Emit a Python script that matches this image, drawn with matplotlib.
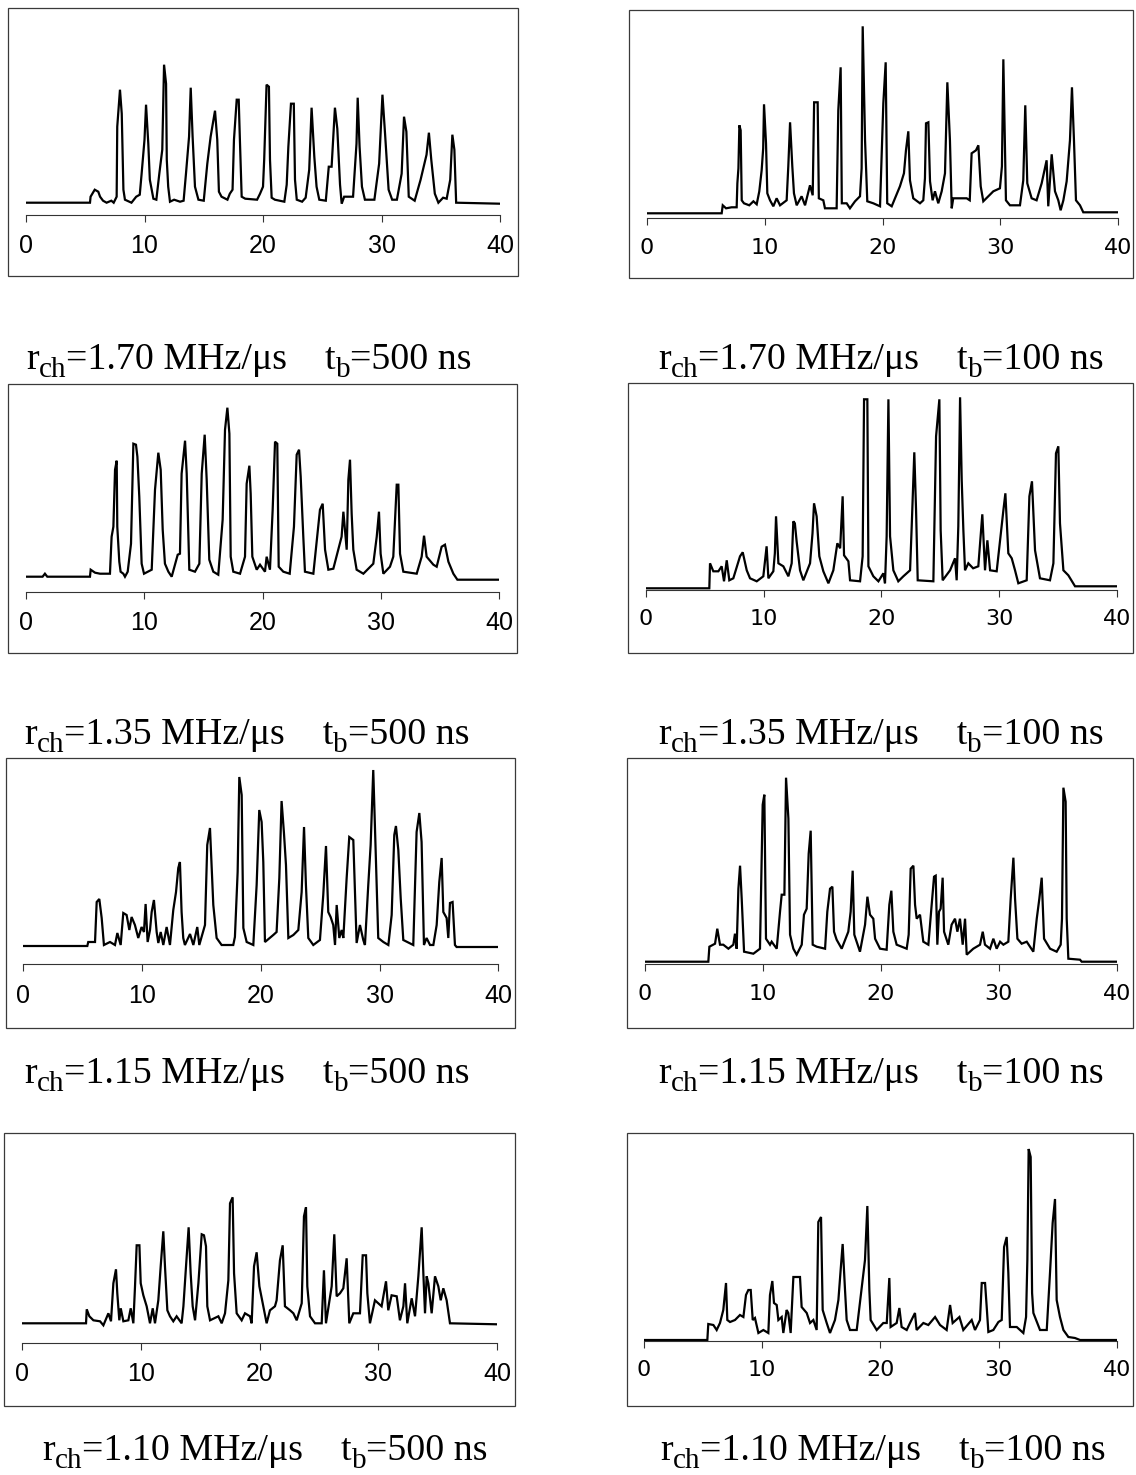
import matplotlib
matplotlib.use('Agg')
import matplotlib.pyplot as plt
from matplotlib.patches import Rectangle

# chirp rates / burst durations for each panel (row-major: left 500 ns, right 100 ns)
rates = ['1.70', '1.70', '1.35', '1.35', '1.15', '1.15', '1.10', '1.10']
bursts = ['500', '100', '500', '100', '500', '100', '500', '100']
ticks = [0, 10, 20, 30, 40]

# traces: (time, amplitude) vertices, amplitude in arbitrary units above baseline
trace_170_500 = [(0, 0), (5.4, 0), (5.45, 6), (5.8, 13), (6.1, 11), (6.25, 6), (6.5, 2), (6.8, 0), (7.2, 2), (7.4, 0),
                 (7.65, 6), (7.7, 76), (7.93, 113), (8.08, 89), (8.22, 13), (8.35, 3), (8.9, 0), (9.3, 6), (9.6, 8), (9.75, 28),
                 (10.0, 63), (10.13, 98), (10.32, 59), (10.45, 23), (10.75, 4), (11.0, 3), (11.25, 29), (11.5, 53), (11.65, 138),
                 (11.82, 119), (11.88, 43), (12.0, 16), (12.15, 1), (12.5, 3), (13.0, 1), (13.3, 2), (13.5, 29), (13.76, 66),
                 (13.9, 115), (14.06, 66), (14.26, 16), (14.55, 3), (15.0, 2), (15.3, 39), (15.58, 66), (15.95, 92), (16.14, 63),
                 (16.28, 11), (16.5, 6), (17.0, 3), (17.2, 9), (17.43, 13), (17.55, 63), (17.78, 103), (17.95, 103), (18.05, 63),
                 (18.2, 6), (18.5, 4), (19.5, 3), (19.75, 9), (20.0, 16), (20.1, 43), (20.3, 118), (20.5, 116), (20.59, 43),
                 (20.73, 5), (21.0, 3), (21.8, 1), (22.0, 18), (22.14, 56), (22.36, 99), (22.6, 99), (22.7, 23), (22.85, 3),
                 (23.3, 1), (23.6, 5), (23.9, 33), (24.1, 95), (24.33, 46), (24.52, 16), (24.75, 3), (25.3, 2), (25.55, 36),
                 (25.79, 36), (26.07, 95), (26.27, 74), (26.5, 18), (26.64, -1), (26.85, 6), (27.6, 6), (27.89, 59), (27.99, 105),
                 (28.15, 56), (28.35, 16), (28.6, 3), (29.4, 3), (29.8, 39), (30.08, 108), (30.3, 69), (30.6, 13), (30.9, 3),
                 (31.3, 3), (31.7, 29), (31.9, 86), (32.1, 71), (32.3, 6), (32.8, 2), (33.3, 23), (33.8, 48), (34.0, 70),
                 (34.2, 43), (34.5, 9), (34.8, 0), (35.2, 5), (35.5, 4), (35.8, 23), (35.98, 68), (36.15, 53), (36.3, 0), (40, -1)]

trace_170_100 = [(0, -5), (6.36, -5), (6.45, 3), (6.73, 0), (7.2, 1), (7.63, 1), (7.69, 25), (7.78, 40), (7.86, 83), (7.97, 78),
                 (8.06, 8), (8.25, 5), (8.7, 3), (9.05, 7), (9.33, 4), (9.55, 17), (9.75, 38), (9.88, 60), (9.95, 104), (10.12, 65),
                 (10.23, 15), (10.46, 8), (10.74, 2), (11.02, 10), (11.31, 3), (11.87, 8), (12.01, 42), (12.16, 86), (12.35, 42),
                 (12.49, 15), (12.72, 3), (13.14, 12), (13.43, 3), (13.85, 23), (14.08, 13), (14.2, 106), (14.5, 106), (14.6, 10),
                 (14.98, 8), (15.12, 0), (16.11, 0), (16.25, 98), (16.45, 141), (16.55, 5), (16.96, 5), (17.24, 0), (17.67, 7),
                 (18.09, 12), (18.23, 40), (18.32, 182), (18.52, 68), (18.71, 7), (19.22, 5), (19.79, 2), (20.07, 105), (20.27, 146),
                 (20.4, 5), (20.78, 2), (21.48, 22), (21.82, 35), (21.99, 58), (22.19, 77), (22.33, 28), (22.61, 10), (23.18, 5),
                 (23.46, 8), (23.6, 30), (23.69, 85), (23.89, 86), (24.03, 27), (24.25, 8), (24.45, 17), (24.73, 5), (25.02, 17),
                 (25.3, 35), (25.5, 126), (25.72, 68), (25.87, 0), (26.0, 10), (27.14, 10), (27.4, 8), (27.56, 55), (27.93, 58),
                 (28.13, 63), (28.33, 22), (28.55, 7), (29.4, 17), (29.96, 20), (30.13, 42), (30.25, 149), (30.47, 8), (30.81, 3),
                 (31.66, 3), (31.94, 28), (32.11, 103), (32.28, 25), (32.65, 10), (33.07, 8), (33.5, 25), (33.92, 48), (34.06, 2),
                 (34.35, 54), (34.63, 17), (34.91, 8), (35.11, -2), (35.34, 8), (35.62, 27), (35.9, 68), (36.07, 121), (36.24, 68),
                 (36.41, 8), (36.75, 3), (37.03, -4), (40, -4)]

trace_135_500 = [(0, 0), (1.4, 0), (1.6, 3), (1.8, 0), (5.41, 0), (5.47, 7), (5.84, 4), (6.26, 3), (7.1, 3), (7.24, 40),
                 (7.39, 50), (7.53, 107), (7.67, 116), (7.72, 50), (7.89, 15), (8.0, 5), (8.23, 3), (8.37, 0), (8.6, 5), (8.88, 33),
                 (9.08, 133), (9.3, 132), (9.42, 120), (9.58, 80), (9.78, 13), (9.98, 3), (10.63, 7), (10.91, 87), (11.19, 124),
                 (11.39, 107), (11.56, 47), (11.75, 13), (12.04, 5), (12.32, 0), (12.83, 22), (13.02, 23), (13.16, 103), (13.45, 136),
                 (13.59, 103), (13.81, 7), (14.29, 5), (14.66, 13), (14.86, 103), (15.11, 142), (15.28, 97), (15.5, 17), (15.84, 5),
                 (16.26, 2), (16.63, 57), (16.83, 147), (17.03, 169), (17.2, 143), (17.31, 20), (17.53, 5), (18.1, 3), (18.52, 20),
                 (18.66, 93), (18.89, 111), (19.0, 83), (19.14, 20), (19.51, 7), (19.79, 12), (20.21, 5), (20.35, 20), (20.63, 7),
                 (20.86, 67), (21.06, 135), (21.25, 133), (21.37, 10), (21.76, 5), (22.3, 3), (22.66, 50), (22.89, 122), (23.09, 127),
                 (23.23, 100), (23.45, 40), (23.59, 5), (24.3, 3), (24.86, 67), (25.09, 73), (25.29, 27), (25.57, 7), (25.99, 8),
                 (26.69, 40), (26.84, 65), (27.12, 27), (27.26, 97), (27.4, 117), (27.54, 63), (27.68, 27), (27.96, 7), (28.53, 3),
                 (29.37, 13), (29.66, 40), (29.85, 65), (29.99, 23), (30.22, 3), (30.78, 10), (31.06, 20), (31.35, 92), (31.49, 92),
                 (31.63, 23), (31.91, 5), (33.04, 3), (33.46, 20), (33.66, 41), (33.88, 20), (34.45, 12), (34.73, 10), (35.15, 30),
                 (35.43, 32), (35.72, 15), (36.14, 3), (36.48, -3), (40, -3)]

trace_135_100 = [(0, -5), (5.38, -5), (5.44, 20), (5.72, 12), (6.15, 12), (6.43, 17), (6.63, 2), (6.86, 23), (7.08, 3), (7.42, 5),
                 (7.99, 27), (8.22, 31), (8.56, 13), (8.84, 5), (9.41, 2), (9.97, 7), (10.25, 37), (10.4, 5), (10.82, 12), (10.95, 30),
                 (11.05, 67), (11.25, 20), (11.67, 17), (12.1, 7), (12.38, 20), (12.52, 62), (12.65, 60), (12.8, 42), (13.09, 13),
                 (13.37, 3), (13.94, 20), (14.15, 50), (14.28, 80), (14.5, 67), (14.73, 27), (15.07, 12), (15.5, 0), (15.92, 13),
                 (16.26, 40), (16.5, 35), (16.71, 87), (16.83, 28), (17.2, 22), (17.34, 3), (18.19, 2), (18.41, 27), (18.53, 184),
                 (18.81, 184), (18.9, 17), (19.32, 7), (19.75, 2), (20.17, 10), (20.31, 0), (20.45, 47), (20.6, 184), (20.74, 47),
                 (21.02, 13), (21.44, 2), (21.87, 7), (22.44, 13), (22.58, 57), (22.8, 131), (22.95, 73), (23.09, 3), (24.42, 2),
                 (24.65, 147), (24.93, 184), (25.04, 53), (25.21, 3), (25.84, 13), (26.26, 25), (26.4, 3), (26.54, 57), (26.69, 186),
                 (26.83, 103), (26.97, 53), (27.11, 13), (27.39, 20), (27.8, 15), (28.24, 17), (28.58, 69), (28.81, 13), (29.01, 43),
                 (29.24, 13), (29.8, 12), (30.37, 73), (30.54, 90), (30.79, 30), (31.08, 25), (31.36, 13), (31.64, 0), (32.35, 3),
                 (32.58, 87), (32.8, 102), (33.06, 33), (33.48, 5), (34.33, 3), (34.62, 20), (34.84, 130), (35.04, 137), (35.18, 60),
                 (35.47, 13), (35.89, 8), (36.46, -3), (40, -3)]

trace_115_500 = [(0, -1), (5.39, -1), (5.47, 3), (6.04, 3), (6.18, 43), (6.4, 46), (6.6, 27), (6.79, 0), (7.3, 3), (7.72, 0),
                 (7.92, 12), (8.2, 0), (8.42, 32), (8.7, 30), (8.93, 15), (9.12, 28), (9.4, 20), (9.68, 7), (9.96, 18), (10.16, 13),
                 (10.3, 41), (10.47, 3), (10.67, 15), (10.81, 33), (11.0, 45), (11.23, 13), (11.37, 2), (11.57, 13), (11.79, 0),
                 (12.07, 18), (12.35, 0), (12.63, 35), (12.86, 53), (13.05, 77), (13.19, 83), (13.33, 33), (13.47, 7), (13.61, 0),
                 (14.04, 11), (14.32, 0), (14.65, 18), (14.82, 0), (15.3, 20), (15.49, 100), (15.72, 117), (16.0, 40), (16.28, 7),
                 (16.7, 0), (17.68, 0), (17.82, 8), (18.05, 73), (18.19, 168), (18.39, 150), (18.53, 17), (18.81, 3), (19.37, 0),
                 (19.65, 60), (19.87, 135), (20.07, 123), (20.21, 83), (20.35, 3), (21.05, 10), (21.33, 13), (21.56, 67), (21.75, 144),
                 (21.95, 112), (22.12, 80), (22.32, 7), (22.74, 10), (23.16, 15), (23.44, 53), (23.64, 118), (23.8, 60), (24.0, 7),
                 (24.42, 0), (24.98, 5), (25.26, 50), (25.49, 99), (25.68, 33), (25.88, 28), (26.1, 20), (26.25, 0), (26.39, 40),
                 (26.61, 7), (26.81, 15), (26.95, 7), (27.23, 67), (27.45, 108), (27.79, 105), (27.93, 53), (28.07, 2), (28.35, 20),
                 (28.63, 5), (28.77, 0), (29.05, 60), (29.25, 100), (29.47, 175), (29.7, 83), (29.89, 7), (30.32, 3), (30.74, 0),
                 (31.02, 30), (31.24, 110), (31.38, 119), (31.58, 95), (31.78, 47), (32.0, 5), (32.84, 0), (33.12, 113), (33.35, 132),
                 (33.54, 103), (33.74, 0), (33.96, 7), (34.25, 0), (34.53, 0), (34.81, 20), (35.03, 63), (35.23, 87), (35.37, 33),
                 (35.65, 27), (35.79, 7), (35.93, 42), (36.15, 43), (36.35, 0), (36.49, -2), (40, -2)]

trace_115_100 = [(0, -5), (5.37, -5), (5.46, 10), (5.94, 13), (6.13, 28), (6.36, 12), (6.64, 12), (7.07, 8), (7.49, 12), (7.63, 23),
                 (7.77, 8), (7.92, 68), (8.06, 91), (8.2, 58), (8.4, 5), (9.19, 3), (9.75, 8), (9.98, 152), (10.12, 162), (10.26, 18),
                 (10.6, 12), (10.74, 15), (11.17, 8), (11.45, 45), (11.59, 62), (11.82, 62), (11.96, 179), (12.16, 138), (12.3, 22),
                 (12.58, 8), (12.86, 2), (13.29, 12), (13.48, 42), (13.71, 48), (13.88, 103), (14.05, 126), (14.22, 12), (14.56, 10),
                 (15.27, 8), (15.46, 45), (15.69, 68), (15.89, 70), (16.03, 25), (16.25, 17), (16.68, 8), (17.24, 25), (17.44, 45),
                 (17.61, 86), (17.75, 22), (18.23, 5), (18.66, 32), (18.86, 60), (19.08, 42), (19.36, 38), (19.51, 18), (19.93, 8),
                 (20.49, 7), (20.72, 52), (20.89, 66), (21.06, 25), (21.34, 12), (22.19, 8), (22.36, 22), (22.53, 88), (22.76, 91),
                 (22.9, 52), (23.04, 38), (23.32, 42), (23.6, 15), (24.03, 12), (24.31, 52), (24.51, 80), (24.65, 81), (24.79, 12),
                 (24.93, 45), (25.07, 48), (25.24, 79), (25.36, 25), (25.72, 12), (26.0, 32), (26.29, 38), (26.49, 25), (26.71, 38),
                 (26.94, 12), (27.14, 38), (27.28, 2), (27.84, 8), (28.41, 12), (28.64, 25), (28.83, 12), (29.26, 8), (29.54, 18),
                 (29.82, 8), (30.11, 15), (30.39, 12), (30.81, 15), (31.01, 58), (31.24, 99), (31.38, 58), (31.58, 18), (31.94, 13),
                 (32.37, 15), (32.93, 5), (33.22, 38), (33.44, 58), (33.64, 79), (33.84, 18), (34.35, 8), (34.91, 5), (35.25, 12),
                 (35.36, 38), (35.48, 169), (35.67, 155), (35.76, 38), (35.9, -2), (36.89, -3), (37.03, -5), (40, -5)]

trace_110_500 = [(0, 0), (5.41, 0), (5.47, 14), (5.69, 7), (6.03, 3), (6.59, 2), (6.87, -2), (7.29, 10), (7.51, 2), (7.71, 40),
                 (7.93, 54), (8.04, 30), (8.21, 3), (8.33, 15), (8.55, 2), (8.97, 3), (9.17, 15), (9.39, 0), (9.53, 37), (9.67, 78),
                 (9.9, 78), (10.01, 40), (10.23, 28), (10.51, 17), (10.79, 0), (11.02, 15), (11.21, 0), (11.49, 23), (11.69, 57),
                 (11.91, 92), (12.05, 57), (12.25, 13), (12.47, 7), (12.75, 2), (13.03, 7), (13.45, 0), (13.6, 17), (13.82, 57),
                 (14.04, 96), (14.21, 50), (14.38, 17), (14.58, 3), (14.86, 40), (15.14, 89), (15.33, 88), (15.5, 77), (15.61, 17),
                 (15.84, 3), (16.54, 7), (16.82, 0), (17.1, 10), (17.38, 43), (17.52, 120), (17.74, 126), (17.86, 50), (18.08, 10),
                 (18.5, 3), (18.78, 10), (19.2, 7), (19.34, 0), (19.54, 57), (19.76, 71), (19.99, 37), (20.32, 17), (20.6, 0),
                 (20.88, 13), (21.3, 17), (21.44, 23), (21.72, 63), (21.95, 78), (22.14, 17), (22.57, 13), (22.85, 10), (23.13, 3),
                 (23.55, 20), (23.74, 107), (23.91, 116), (24.02, 37), (24.25, 7), (24.67, 0), (25.23, 0), (25.42, 53), (25.59, 0),
                 (26.07, 37), (26.29, 89), (26.49, 27), (26.77, 30), (27.05, 35), (27.33, 65), (27.55, 0), (27.89, 10), (28.45, 10),
                 (28.68, 68), (28.96, 68), (29.07, 30), (29.29, 0), (29.71, 23), (29.99, 20), (30.27, 17), (30.64, 42), (30.83, 13),
                 (31.11, 28), (31.54, 27), (31.81, 3), (32.1, 17), (32.24, 40), (32.43, 0), (32.8, 25), (33.08, 7), (33.36, 47),
                 (33.64, 96), (33.78, 50), (33.92, 10), (34.06, 47), (34.2, 40), (34.48, 10), (34.76, 47), (35.04, 37), (35.24, 23),
                 (35.46, 35), (35.74, 23), (36.02, 0), (40, -1)]

trace_110_100 = [(0, -5), (5.36, -5), (5.44, 11), (5.87, 10), (6.15, 5), (6.43, 12), (6.71, 25), (6.94, 52), (7.05, 15), (7.28, 13),
                 (7.7, 15), (8.12, 20), (8.41, 18), (8.63, 40), (8.83, 45), (9.03, 45), (9.2, 15), (9.39, 17), (9.68, 2), (10.1, 5),
                 (10.52, 2), (10.66, 40), (10.86, 54), (11.0, 32), (11.23, 30), (11.37, 15), (11.65, 18), (11.79, 2), (12.07, 25),
                 (12.21, 22), (12.41, 2), (12.64, 58), (12.92, 58), (13.2, 58), (13.34, 28), (13.77, 22), (14.05, 12), (14.33, 15),
                 (14.61, 5), (14.75, 113), (14.98, 118), (15.12, 25), (15.46, 12), (15.74, 2), (16.16, 15), (16.45, 35), (16.64, 65),
                 (16.81, 91), (17.01, 45), (17.15, 15), (17.43, 5), (18.0, 5), (18.7, 75), (18.9, 129), (19.07, 45), (19.18, 15),
                 (19.69, 5), (20.25, 12), (20.54, 12), (20.76, 57), (20.87, 8), (21.38, 12), (21.61, 27), (21.8, 8), (22.23, 5),
                 (22.51, 12), (22.93, 22), (23.07, 5), (23.64, 12), (24.06, 10), (24.63, 18), (25.05, 10), (25.61, 5), (25.9, 30),
                 (26.12, 12), (26.69, 18), (27.02, 5), (27.73, 15), (28.01, 5), (28.43, 15), (28.58, 52), (28.86, 52), (29.0, 28),
                 (29.14, 3), (29.56, 5), (29.99, 13), (30.27, 15), (30.47, 88), (30.69, 98), (30.83, 62), (30.97, 8), (31.54, 8),
                 (32.1, 2), (32.33, 18), (32.44, 75), (32.55, 186), (32.72, 178), (32.84, 42), (32.95, 22), (33.51, 5), (34.08, 5),
                 (34.36, 63), (34.58, 112), (34.78, 136), (34.92, 35), (35.2, 18), (35.49, 5), (35.91, -2), (36.47, -3), (36.9, -5),
                 (40, -5)]

traces = [trace_170_500, trace_170_100, trace_135_500, trace_135_100,
          trace_115_500, trace_115_100, trace_110_500, trace_110_100]

# panel geometry in image pixels: box (l, t, r, b), x of 0 and 40, axis line y, baseline y
panels = [
    ((8, 8, 518, 276), 26, 500, 215, 202.7),
    ((629, 10, 1133, 278), 646.7, 1118.3, 218.3, 208.3),
    ((8, 384, 517, 653), 26, 499, 591.7, 576.7),
    ((628, 383, 1133, 653), 646, 1116.7, 590, 583.3),
    ((6, 758, 515, 1028), 23.3, 498.3, 964.3, 945),
    ((627, 758, 1133, 1028), 645, 1116.7, 964.3, 956.7),
    ((4, 1133, 515, 1406), 21.7, 497.3, 1342.7, 1323.3),
    ((627, 1133, 1133, 1406), 644, 1116.7, 1340.7, 1335),
]
# caption left x and baseline y
captions = [(26, 369), (658, 369), (24, 744), (658, 744),
            (24, 1083), (658, 1083), (42, 1460), (660, 1460)]

W, H = 1136, 1475
fig = plt.figure(figsize=(W / 100, H / 100), dpi=100)
fig.patch.set_facecolor('white')

bg = fig.add_axes([0, 0, 1, 1])
bg.set_xlim(0, W)
bg.set_ylim(H, 0)
bg.axis('off')

serif = 'Liberation Serif'


def caption(x, y, rate, tb):
    t = bg.text(x, y, 'r', fontsize=27.3, family=serif, va='baseline', ha='left')
    parts = [('ch', 21, -6), ('=' + rate + ' MHz/μs    t', 27.3, 6), ('b', 21, -6), ('=' + tb + ' ns', 27.3, 6)]
    for s, fs, dy in parts:
        t = bg.annotate(s, xy=(1, 0), xycoords=t, xytext=(0, dy), textcoords='offset pixels',
                        fontsize=fs, family=serif, va='bottom', ha='left')


for i, (box, x0, x40, axis_y, base_y) in enumerate(panels):
    l, t, r, b = box
    bg.add_patch(Rectangle((l, t), r - l, b - t, fill=False, lw=0.9, ec='#3a3a3a'))

    top = t + 3
    ax = fig.add_axes([x0 / W, 1 - axis_y / H, (x40 - x0) / W, (axis_y - top) / H])
    ax.patch.set_visible(False)
    xs = [p[0] for p in traces[i]]
    ys = [p[1] for p in traces[i]]
    ax.plot(xs, ys, color='black', lw=1.6, solid_joinstyle='miter')
    ax.set_xlim(0, 40)
    ax.set_ylim(base_y - axis_y, base_y - top)

    for side in ['left', 'right', 'top']:
        ax.spines[side].set_visible(False)
    ax.spines['bottom'].set_linewidth(0.8)
    ax.spines['bottom'].set_color('#333333')
    ax.set_yticks([])
    ax.set_xticks(ticks)
    if i % 2 == 0:
        ax.set_xticklabels([str(v) for v in ticks], family='Liberation Sans', fontsize=18)
    else:
        ax.set_xticklabels([str(v) for v in ticks], family='DejaVu Sans', fontsize=16)
    ax.tick_params(axis='x', direction='out', length=5, width=0.8, color='#333333', pad=9)

    cx, cy = captions[i]
    caption(cx, cy, rates[i], bursts[i])

fig.savefig('out.png', dpi=100, facecolor='white')
